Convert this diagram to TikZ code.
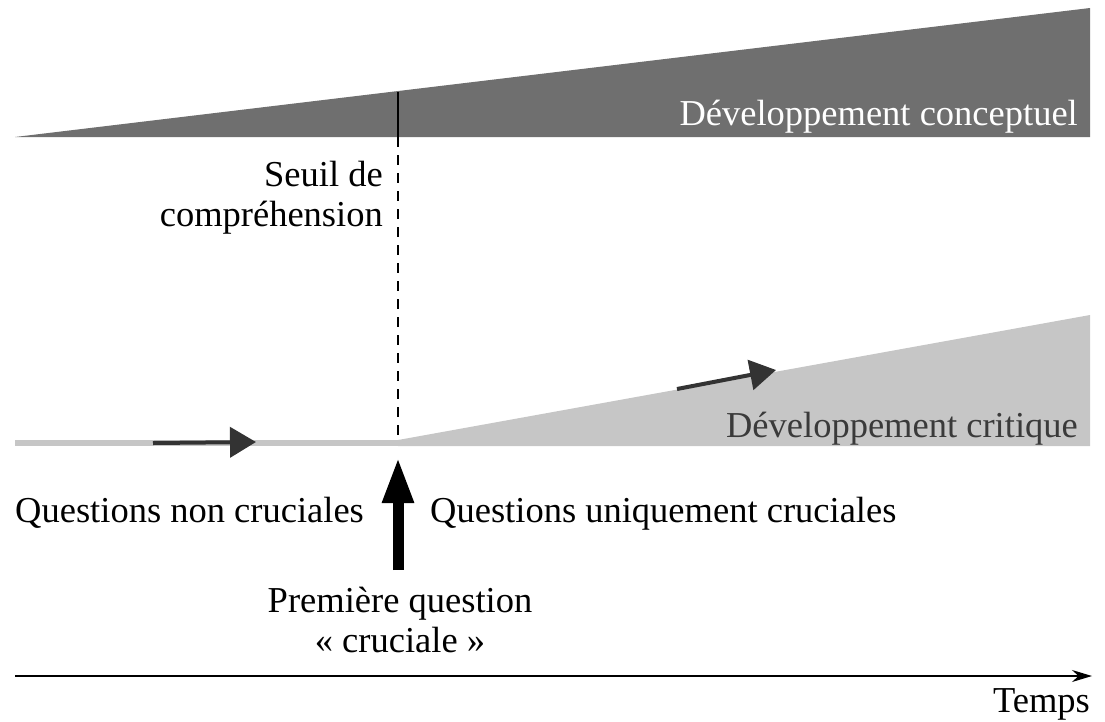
\documentclass[tikz,border=0pt]{standalone}
\usepackage{fontspec}
\setmainfont{Liberation Serif}
\usetikzlibrary{arrows.meta}
\definecolor{darkband}{HTML}{6F6F6F}
\definecolor{lightband}{HTML}{C6C6C6}
\definecolor{arrowgray}{HTML}{333333}
\definecolor{critgray}{HTML}{3A3A3A}
\begin{document}
\begin{tikzpicture}[x=1pt,y=-1pt,
  lbl/.style={inner sep=0pt, font=\fontsize{36.5}{40}\selectfont},
  trendarrow/.style={draw=arrowgray, line width=4pt, -{Triangle[length=26pt,width=30pt]}, arrowgray}]
\useasboundingbox (0,0) rectangle (1105,721);
% dark band
\fill[darkband] (15,137) -- (1090,8) -- (1090,137) -- cycle;
% light band
\fill[lightband] (15,440) rectangle (398,446);
\fill[lightband] (398,440) -- (1090,315) -- (1090,446) -- (398,446) -- cycle;
% threshold line
\coordinate (ttop) at (398,92);
\coordinate (tmid) at (398,137);
\coordinate (tbot) at (398,442);
\draw[line width=2.5pt] (ttop) -- (tmid);
\draw[line width=2.2pt, dash pattern=on 10pt off 8pt] (tmid) -- (tbot);
% trend arrows
\coordinate (a1s) at (153,443);
\coordinate (a1e) at (256,442);
\draw[trendarrow] (a1s) -- (a1e);
\coordinate (a2s) at (677,389);
\coordinate (a2e) at (776,370);
\draw[trendarrow] (a2s) -- (a2e);
% first crucial question arrow
\coordinate (qs) at (398,570);
\coordinate (qe) at (398,457);
\draw[line width=11pt, -{Triangle[length=46pt,width=29pt]}] (qs) -- (qe);
% time axis
\coordinate (t0) at (15,676);
\coordinate (t1) at (1092,676);
\draw[line width=1.5pt, -{Stealth[length=20pt,width=12pt]}] (t0) -- (t1);
% labels
\node[lbl, anchor=base east, text=white] (concept) at (1078,125) {Développement conceptuel};
\node[lbl, anchor=base east, align=right] (seuil) at (383,226) {Seuil de\\compréhension};
\node[lbl, anchor=base east, text=critgray] (crit) at (1078,437) {Développement critique};
\node[lbl, anchor=base west] (qnon) at (15,522) {Questions non cruciales};
\node[lbl, anchor=base west] (quniq) at (430,522) {Questions uniquement cruciales};
\node[lbl, anchor=base, align=center] (prem) at (400,652) {Première question\\« cruciale »};
\node[lbl, anchor=base east] (temps) at (1090,712) {Temps};
\end{tikzpicture}
\end{document}
